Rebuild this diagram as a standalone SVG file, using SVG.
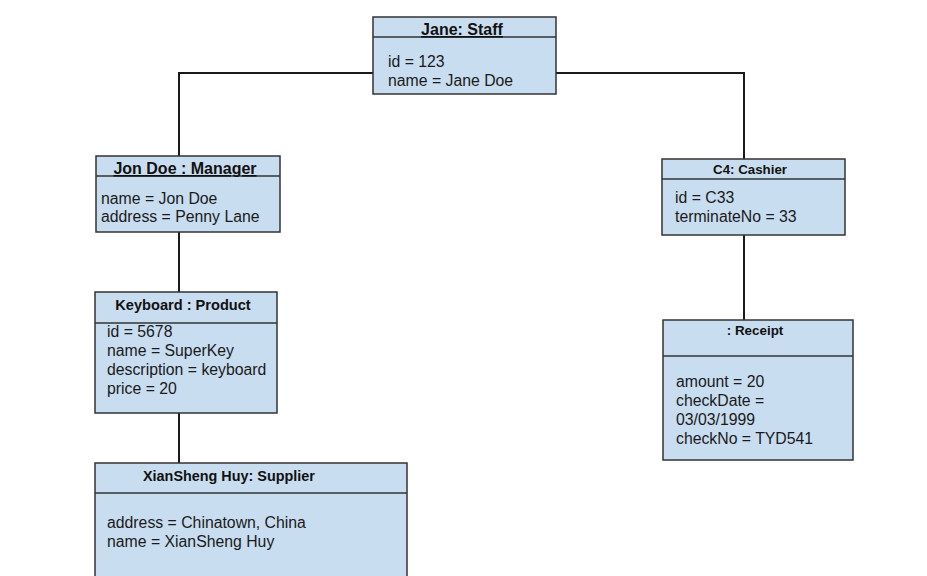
<svg xmlns="http://www.w3.org/2000/svg" width="927" height="576" viewBox="0 0 927 576">
<style>
.box{fill:#c9ddf0;stroke:#333;stroke-width:1.5}
.div{stroke:#333;stroke-width:1.5}
.conn{fill:none;stroke:#1a1a1a;stroke-width:2}
.t{font-family:"Liberation Sans",Arial,sans-serif;font-weight:bold;fill:#111}
.a{font-family:"Liberation Sans",Arial,sans-serif;font-size:15.8px;fill:#1a1a1a}
</style>
<rect width="927" height="576" fill="#fff"/>
<g id="connectors">
<polyline class="conn" points="373,73 179,73 179,156"/>
<polyline class="conn" points="556,73 744,73 744,159"/>
<line class="conn" x1="179" y1="232" x2="179" y2="292"/>
<line class="conn" x1="179" y1="413" x2="179" y2="463"/>
<line class="conn" x1="744" y1="235" x2="744" y2="320"/>
</g>
<g id="jane">
<rect class="box" x="373" y="17" width="183" height="77"/>
<line class="div" x1="373" y1="37" x2="556" y2="37"/>
<text class="t" x="462" y="35" font-size="16" text-anchor="middle" text-decoration="underline">Jane: Staff</text>
<text class="a" x="388" y="67">id = 123</text>
<text class="a" x="388" y="86">name = Jane Doe</text>
</g>
<g id="manager">
<rect class="box" x="96" y="156" width="184" height="76"/>
<line class="div" x1="96" y1="176" x2="280" y2="176"/>
<text class="t" x="185" y="174" font-size="16" text-anchor="middle" text-decoration="underline">Jon Doe : Manager</text>
<text class="a" x="101" y="204">name = Jon Doe</text>
<text class="a" x="101" y="222">address = Penny Lane</text>
</g>
<g id="cashier">
<rect class="box" x="662" y="159" width="183" height="76"/>
<line class="div" x1="662" y1="179" x2="845" y2="179"/>
<text class="t" x="750" y="174" font-size="13.3" text-anchor="middle">C4: Cashier</text>
<text class="a" x="675" y="203">id = C33</text>
<text class="a" x="675" y="222">terminateNo = 33</text>
</g>
<g id="product">
<rect class="box" x="95" y="292" width="182" height="121"/>
<line class="div" x1="95" y1="323" x2="277" y2="323"/>
<text class="t" x="183" y="310" font-size="14.6" text-anchor="middle">Keyboard : Product</text>
<text class="a" x="107" y="337">id = 5678</text>
<text class="a" x="107" y="356">name = SuperKey</text>
<text class="a" x="107" y="375">description = keyboard</text>
<text class="a" x="107" y="394">price = 20</text>
</g>
<g id="receipt">
<rect class="box" x="663" y="320" width="190" height="140"/>
<line class="div" x1="663" y1="356" x2="853" y2="356"/>
<text class="t" x="755" y="335" font-size="13.4" text-anchor="middle">: Receipt</text>
<text class="a" x="676" y="387">amount = 20</text>
<text class="a" x="676" y="406">checkDate =</text>
<text class="a" x="676" y="425">03/03/1999</text>
<text class="a" x="676" y="444">checkNo = TYD541</text>
</g>
<g id="supplier">
<rect class="box" x="95" y="463" width="312" height="120"/>
<line class="div" x1="95" y1="493" x2="407" y2="493"/>
<text class="t" x="143" y="481" font-size="14.4">XianSheng Huy: Supplier</text>
<text class="a" x="107" y="528">address = Chinatown, China</text>
<text class="a" x="107" y="547">name = XianSheng Huy</text>
</g>
</svg>
